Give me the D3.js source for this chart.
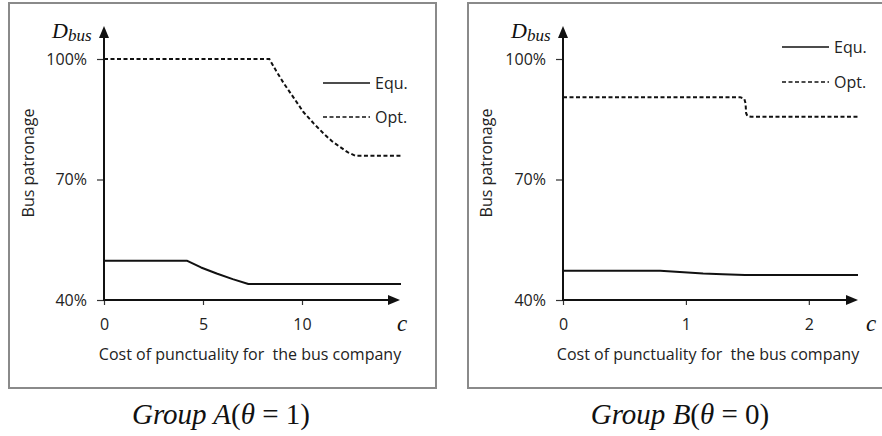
<!DOCTYPE html>
<html>
<head>
<meta charset="utf-8">
<script src="https://cdn.jsdelivr.net/npm/d3@7/dist/d3.min.js"></script>
<style>
  html, body { margin: 0; padding: 0; background: #fff; }
  svg { display: block; }
</style>
</head>
<body>
<svg id="chart" width="882" height="436"></svg>
<script>
// ---------- data ----------
const yTicks = [40, 70, 100];
const yLabel = "Bus patronage";
const xLabel = "Cost of punctuality for  the bus company";
const legendLabels = ["Equ.", "Opt."];

// Group A (theta = 1)
const xTicksA = [0, 5, 10];
const cEquA = [0, 4.18, 4.9, 5.69, 6.5, 7.29, 15];
const dEquA = [49.8, 49.8, 48.1, 46.6, 45.2, 44.0, 44.0];
const cOptA = [0, 8.35, 8.7, 9.06, 9.6, 10.07, 10.6, 11.08, 11.5, 11.92, 12.3, 12.7, 15];
const dOptA = [100, 100, 97.0, 94.1, 90.2, 86.8, 83.9, 81.5, 79.6, 78.1, 76.8, 75.9, 75.9];

// Group B (theta = 0)
const xTicksB = [0, 1, 2];
const cEquB = [0, 0.79, 0.95, 1.14, 1.3, 1.48, 2.4];
const dEquB = [47.3, 47.3, 47.0, 46.6, 46.4, 46.2, 46.2];
const cOptB = [0, 1.44, 1.475, 1.485, 1.49, 1.5, 1.53, 2.4];
const dOptB = [90.5, 90.5, 90.1, 89.0, 86.5, 85.8, 85.6, 85.6];

// ---------- drawing ----------
const svg = d3.select("#chart");
const FONT = "'Open Sans', 'Liberation Sans', sans-serif";
const SERIF = "'Liberation Serif', 'DejaVu Serif', serif";
const INK = "#111";

function drawPanel(p) {
  const g = svg.append("g");

  // frame
  g.append("rect")
    .attr("x", p.frame[0]).attr("y", p.frame[1])
    .attr("width", p.frame[2]).attr("height", p.frame[3])
    .attr("fill", "none").attr("stroke", "#8a8a8a").attr("stroke-width", 2);

  const x = d3.scaleLinear().domain(p.xDomain).range(p.xRange);
  const y = d3.scaleLinear().domain([40, 100]).range([300, 59]);

  // y axis ticks + labels
  const ya = g.append("g").attr("transform", `translate(${p.xRange[0]},0)`)
    .call(d3.axisLeft(y).tickValues(yTicks).tickSize(7).tickPadding(10).tickFormat(d => d + "%"));
  ya.select(".domain").remove();
  ya.selectAll(".tick line").attr("stroke", "#333").attr("stroke-width", 1.2);
  ya.selectAll(".tick text").attr("font-family", FONT).attr("font-size", 16).attr("fill", "#222");

  // x axis ticks + labels
  const xa = g.append("g").attr("transform", `translate(0,300)`)
    .call(d3.axisBottom(x).tickValues(p.xTicks).tickSize(5).tickPadding(14).tickFormat(d3.format("d")));
  xa.select(".domain").remove();
  xa.selectAll(".tick line").attr("stroke", "#333").attr("stroke-width", 1.2);
  xa.selectAll(".tick text").attr("font-family", FONT).attr("font-size", 16).attr("fill", "#222");

  // axis lines with arrows
  const x0 = p.xRange[0];
  g.append("line").attr("x1", x0).attr("y1", 301).attr("x2", x0).attr("y2", 36)
    .attr("stroke", INK).attr("stroke-width", 2);
  g.append("path").attr("d", `M${x0},26 L${x0 - 5},38 L${x0 + 5},38 Z`).attr("fill", INK);
  g.append("line").attr("x1", x0 - 1).attr("y1", 300).attr("x2", p.arrowX - 10).attr("y2", 300)
    .attr("stroke", INK).attr("stroke-width", 2);
  g.append("path").attr("d", `M${p.arrowX},300 L${p.arrowX - 12},295 L${p.arrowX - 12},305 Z`).attr("fill", INK);

  // c label
  g.append("text").attr("x", p.cX).attr("y", 331)
    .attr("font-family", SERIF).attr("font-style", "italic").attr("font-size", 23).attr("fill", INK)
    .text("c");

  // D_bus label
  const dl = g.append("text").attr("x", p.dX).attr("y", 38)
    .attr("font-family", SERIF).attr("font-style", "italic").attr("fill", INK);
  dl.append("tspan").attr("font-size", 22).text("D");
  dl.append("tspan").attr("font-size", 17).attr("dy", 3).text("bus");

  // axis titles
  g.append("text")
    .attr("transform", `translate(${p.yTitleX},${p.yTitleY}) rotate(-90)`)
    .attr("text-anchor", "middle").attr("dominant-baseline", "central")
    .attr("font-family", FONT).attr("font-size", 16).attr("fill", "#222")
    .text(yLabel);
  g.append("text").attr("x", p.xTitleX).attr("y", 360)
    .attr("text-anchor", "middle").attr("xml:space", "preserve")
    .style("white-space", "pre")
    .attr("font-family", FONT).attr("font-size", 16).attr("fill", "#222")
    .text(xLabel);

  // series
  const line = d3.line().x(d => x(d[0])).y(d => y(d[1]));
  g.append("path").datum(d3.zip(p.cEqu, p.dEqu)).attr("d", line)
    .attr("fill", "none").attr("stroke", INK).attr("stroke-width", 2).attr("stroke-linejoin", "round");
  g.append("path").datum(d3.zip(p.cOpt, p.dOpt)).attr("d", line)
    .attr("fill", "none").attr("stroke", INK).attr("stroke-width", 2)
    .attr("stroke-dasharray", "4,2.5");

  // legend
  const lg = g.append("g");
  legendLabels.forEach((lab, i) => {
    const ly = p.legY[i];
    lg.append("line").attr("x1", p.legX).attr("x2", p.legX + 47).attr("y1", ly).attr("y2", ly)
      .attr("stroke", INK).attr("stroke-width", 1.6)
      .attr("stroke-dasharray", i === 1 ? "4,2.5" : null);
    lg.append("text").attr("x", p.legX + 52).attr("y", ly).attr("dominant-baseline", "central")
      .attr("font-family", FONT).attr("font-size", 16).attr("fill", "#222").text(lab);
  });

  // caption
  const cap = g.append("text").attr("x", p.capX).attr("y", 424).attr("text-anchor", "middle")
    .attr("font-family", SERIF).attr("font-size", 29).attr("fill", INK);
  cap.append("tspan").attr("font-style", "italic").text("Group ");
  cap.append("tspan").attr("font-style", "italic").text(p.group);
  cap.append("tspan").text("(");
  cap.append("tspan").attr("font-style", "italic").text("θ");
  cap.append("tspan").text(" = " + p.theta + ")");
}

drawPanel({
  frame: [9, 3, 427, 385],
  xDomain: [0, 15], xRange: [104, 401], xTicks: xTicksA, arrowX: 400,
  cX: 397, dX: 52, yTitleX: 28, yTitleY: 163, xTitleX: 250,
  cEqu: cEquA, dEqu: dEquA, cOpt: cOptA, dOpt: dOptA,
  legX: 323, legY: [83, 117], capX: 221, group: "A", theta: 1
});
drawPanel({
  frame: [468, 3, 420, 385],
  xDomain: [0, 2.4], xRange: [563, 858], xTicks: xTicksB, arrowX: 858,
  cX: 866, dX: 511, yTitleX: 486, yTitleY: 163, xTitleX: 708,
  cEqu: cEquB, dEqu: dEquB, cOpt: cOptB, dOpt: dOptB,
  legX: 782, legY: [47, 82], capX: 680, group: "B", theta: 0
});
</script>
</body>
</html>
